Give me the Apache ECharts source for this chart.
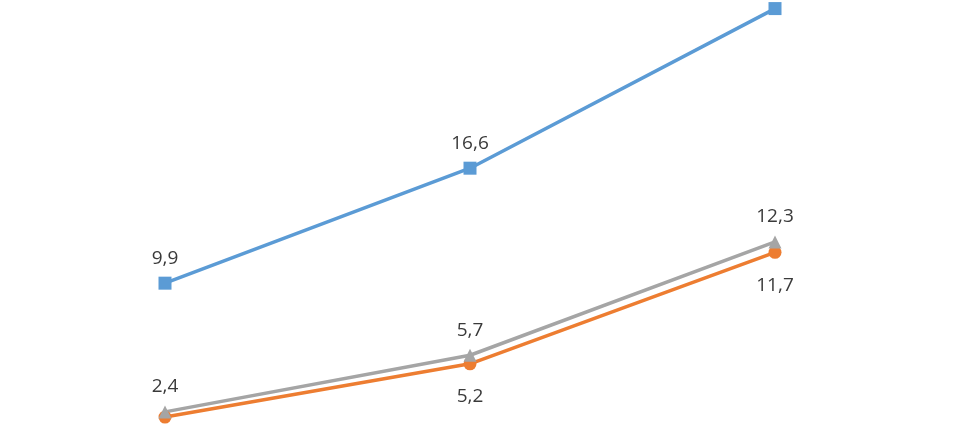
<!DOCTYPE html>
<html><head><meta charset="utf-8">
<script src="https://cdn.jsdelivr.net/npm/echarts@6/dist/echarts.min.js"></script>
<style>html,body{margin:0;padding:0;background:#fff}#c{width:971px;height:439px}</style>
</head><body><div id="c"></div>
<script>
var categories = ['A', 'B', 'C'];
var seriesBlue = [9.9, 16.6, 25.9];
var seriesOrange = [2.1, 5.2, 11.7];
var seriesGray = [2.4, 5.7, 12.3];

var chart = echarts.init(document.getElementById('c'));
function fmt(p){ return String(p.value).replace('.', ','); }
var lbl = function(pos, d){ return {show:true, position:pos, distance:d, formatter:fmt, color:'#3a3a3a', fontSize:19, fontFamily:'Open Sans, Liberation Sans, sans-serif'}; };
chart.setOption({
  animation:false,
  grid:{left:12.5, width:915, top:0, height:439},
  xAxis:{type:'category', data:categories, show:false},
  yAxis:{type:'value', min:0.82, max:26.4, show:false},
  series:[
    {type:'line', data:seriesBlue, symbol:'rect', symbolSize:13, lineStyle:{color:'#5B9BD5', width:3.5}, itemStyle:{color:'#5B9BD5'}, label:lbl('top', 9)},
    {type:'line', data:seriesOrange, symbol:'circle', symbolSize:13, lineStyle:{color:'#ED7D31', width:3.5}, itemStyle:{color:'#ED7D31'}, label:lbl('bottom', 17)},
    {type:'line', data:seriesGray, symbol:'triangle', symbolSize:13, lineStyle:{color:'#A5A5A5', width:3.5}, itemStyle:{color:'#A5A5A5'}, label:lbl('top', 9)}
  ]
});
</script></body></html>
